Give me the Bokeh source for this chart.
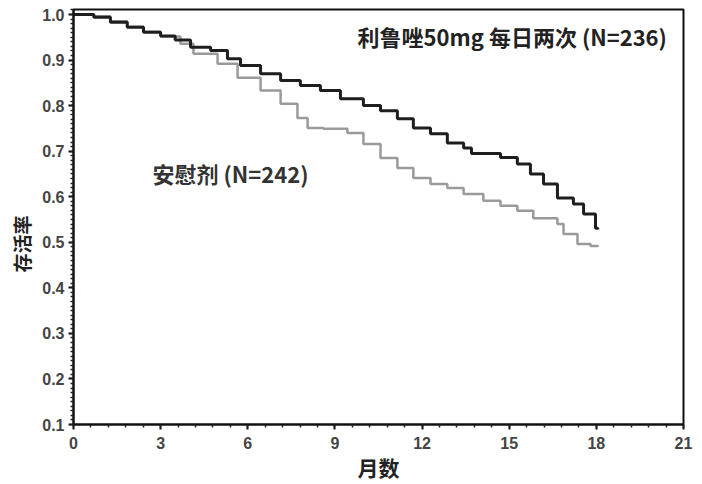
from bokeh.plotting import figure
from bokeh.models import FixedTicker, Range1d, Label, NumeralTickFormatter, Title
from bokeh.embed import file_html
from bokeh.resources import INLINE

# ---- data ----
drug_months = [0, 0.7, 1.27, 1.85, 2.41, 3.0, 3.5, 4.03, 4.72, 5.30, 5.75, 6.44, 7.13, 7.81,
               8.50, 9.19, 9.98, 10.57, 11.15, 11.70, 12.29, 12.87, 13.43, 13.70, 14.70,
               15.28, 15.73, 16.18, 16.66, 17.21, 17.56, 17.97, 18.05]
drug_surv = [1.0, 0.994, 0.983, 0.972, 0.961, 0.953, 0.944, 0.928, 0.921, 0.903, 0.888, 0.870,
             0.855, 0.844, 0.833, 0.815, 0.800, 0.789, 0.771, 0.751, 0.738, 0.718, 0.707, 0.695,
             0.686, 0.672, 0.650, 0.628, 0.597, 0.584, 0.562, 0.531, 0.528]

placebo_months = [0, 0.7, 1.27, 1.85, 2.41, 3.0, 3.68, 4.13, 4.96, 5.65, 6.44, 7.13, 7.71, 8.06,
                  8.61, 9.43, 9.98, 10.57, 11.15, 11.70, 12.29, 12.87, 13.43, 14.11, 14.70,
                  15.28, 15.83, 16.66, 16.87, 17.35, 17.80, 18.05]
placebo_surv = [1.0, 0.996, 0.985, 0.973, 0.962, 0.952, 0.936, 0.914, 0.892, 0.861, 0.833, 0.804,
                0.773, 0.751, 0.749, 0.740, 0.716, 0.685, 0.663, 0.641, 0.628, 0.619, 0.606,
                0.591, 0.580, 0.569, 0.553, 0.540, 0.518, 0.496, 0.492, 0.490]

drug_label = "利鲁唑50mg 每日两次 (N=236)"
placebo_label = "安慰剂 (N=242)"
x_title = "月数"
y_title = "存活率"
x_ticks = [0, 3, 6, 9, 12, 15, 18, 21]
y_ticks = [0.1, 0.2, 0.3, 0.4, 0.5, 0.6, 0.7, 0.8, 0.9, 1.0]

CJK = "Noto Sans CJK SC"
TICK_FONT = "Liberation Sans"

p = figure(width=694, height=484, output_backend="svg", toolbar_location=None,
           x_range=Range1d(0, 21), y_range=Range1d(0.1, 1.011),
           min_border_left=73, min_border_right=11, min_border_top=9, min_border_bottom=60,
           background_fill_color="white", border_fill_color="white")
p.grid.visible = False
p.outline_line_color = "#111111"
p.outline_line_width = 2

# axes
p.xaxis.ticker = FixedTicker(ticks=x_ticks,
                             minor_ticks=[round(i * 0.6, 2) for i in range(36)])
p.yaxis.ticker = FixedTicker(ticks=y_ticks,
                             minor_ticks=[round(0.1 + i * 0.01, 3) for i in range(92)])
p.yaxis.formatter = NumeralTickFormatter(format="0.0")
for ax in (p.xaxis, p.yaxis):
    ax.axis_line_color = "#111111"
    ax.axis_line_width = 2
    ax.major_tick_line_color = "#111111"
    ax.major_tick_line_width = 2
    ax.major_tick_out = 5
    ax.major_tick_in = 0
    ax.minor_tick_line_color = "#222222"
    ax.minor_tick_line_width = 1.5
    ax.minor_tick_out = 3
    ax.minor_tick_in = 0
    ax.major_label_text_font = TICK_FONT
    ax.major_label_text_font_size = "16px"
    ax.major_label_text_font_style = "bold"
    ax.major_label_text_color = "#444444"
p.xaxis.major_label_standoff = 7
p.yaxis.major_label_standoff = 4

p.xaxis.axis_label = x_title
p.xaxis.axis_label_text_font = CJK
p.xaxis.axis_label_text_font_size = "21px"
p.xaxis.axis_label_text_font_style = "bold"
p.xaxis.axis_label_text_color = "#222222"
p.xaxis.axis_label_standoff = 0

# y title, placed lower than centre as in the reference
p.add_layout(Title(text=y_title, align="left", offset=152, standoff=10,
                   text_font=CJK, text_font_size="19px", text_font_style="bold",
                   text_color="#222222"), "left")

# survival curves (Kaplan-Meier steps)
p.step(placebo_months, placebo_surv, mode="after", line_color="#9a9a9a", line_width=2.5)
p.step(drug_months, drug_surv, mode="after", line_color="#1e1e1e", line_width=3)

# curve labels
p.add_layout(Label(x=9.78, y=0.952, text=drug_label, text_align="left", text_baseline="middle",
                   text_font=CJK, text_font_size="22px", text_font_style="bold",
                   text_color="#222222"))
p.add_layout(Label(x=2.72, y=0.653, text=placebo_label, text_align="left", text_baseline="middle",
                   text_font=CJK, text_font_size="22px", text_font_style="bold",
                   text_color="#333333"))

open("out.html", "w").write(file_html(p, INLINE))
